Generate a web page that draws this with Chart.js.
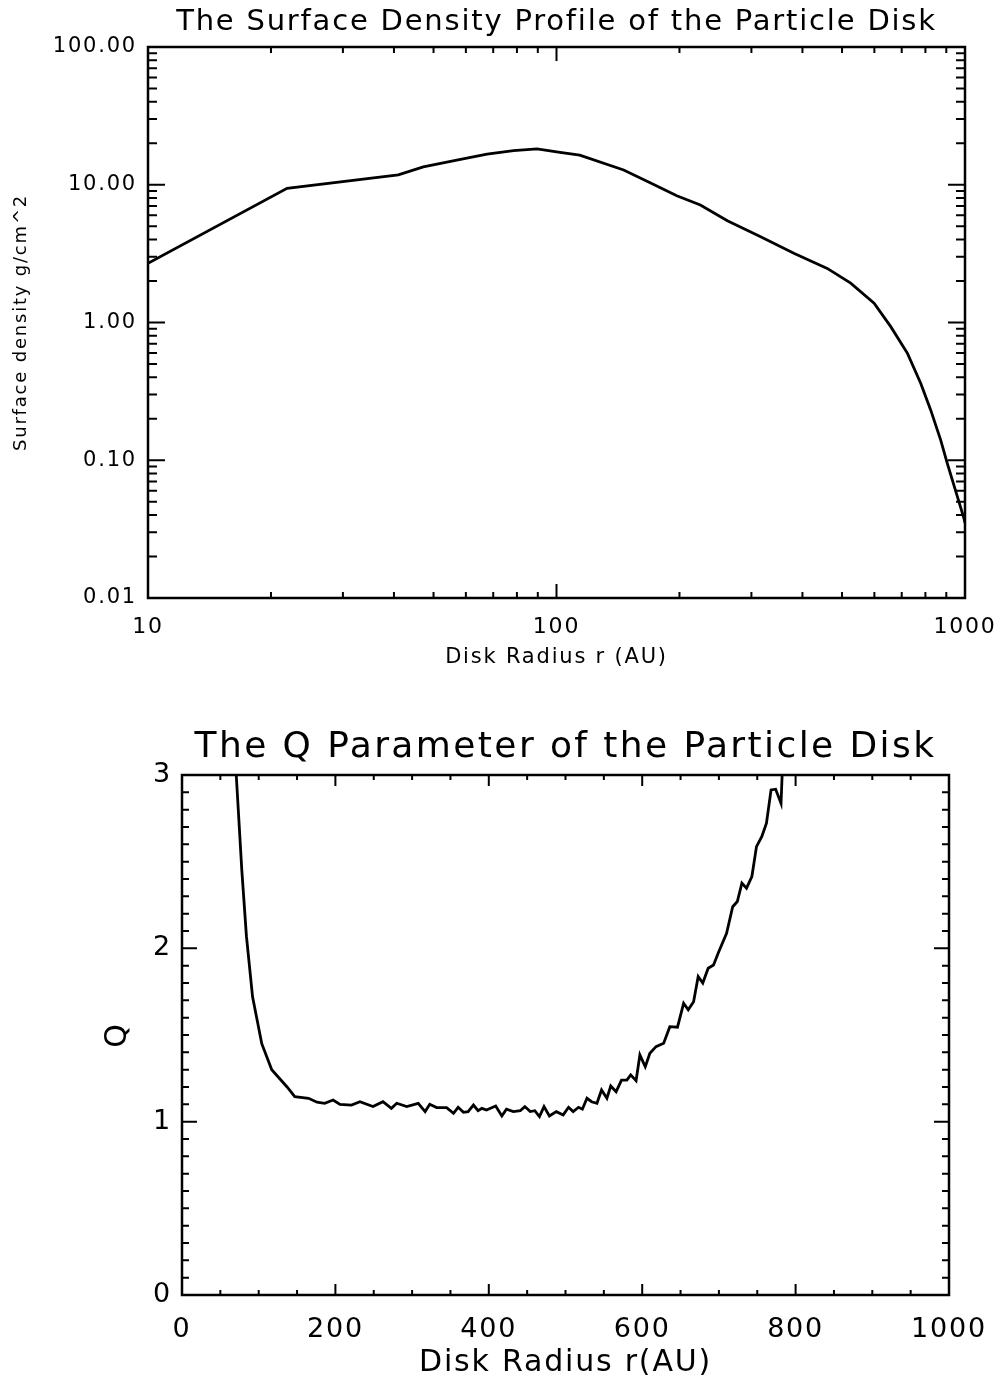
<!DOCTYPE html>
<html>
<head>
<meta charset="utf-8">
<script src="https://cdn.jsdelivr.net/npm/chart.js@4.4.0/dist/chart.umd.min.js"></script>
<style>
  body { margin: 0; background: #fff; }
  .wrap { position: absolute; left: 0; width: 1000px; }
</style>
</head>
<body>
<div class="wrap" style="top:0;height:690px"><canvas id="sigmaChart" width="1000" height="690"></canvas></div>
<div class="wrap" style="top:690px;height:691px"><canvas id="qChart" width="1000" height="691"></canvas></div>
<script>
// surface density profile
const sigmaRadius = [10, 21.9, 41.0, 47.2, 57.0, 67.6, 78.5, 89.6, 102, 114,
  146, 170, 197, 225, 262, 316, 381, 460, 525, 599,
  658, 723, 779, 824, 872, 905, 958, 994, 1000];
const sigmaDensity = [2.69, 9.42, 11.8, 13.5, 15.1, 16.7, 17.7, 18.2, 17.2, 16.4,
  12.8, 10.3, 8.33, 7.13, 5.48, 4.20, 3.18, 2.47, 1.93, 1.38,
  0.933, 0.597, 0.362, 0.232, 0.140, 0.095, 0.0544, 0.0379, 0.035];
const sigmaXTicks = [10, 100, 1000];
const sigmaYTicks = [0.01, 0.1, 1, 10, 100];

// Q parameter profile
const qRadius = [66, 71, 78, 84, 92, 104, 117, 137, 147, 165,
  176, 186, 197, 206, 221, 232, 249, 262, 273, 280,
  293, 308, 317, 323, 332, 345, 354, 360, 367, 373,
  380, 386, 391, 397, 409, 417, 423, 432, 441, 447,
  454, 460, 466, 472, 479, 488, 497, 504, 510, 517,
  522, 528, 534, 541, 547, 554, 559, 566, 573, 580,
  585, 592, 597, 604, 610, 618, 628, 636, 646, 654,
  660, 667, 673, 679, 686, 693, 699, 710, 718, 724,
  730, 736, 743, 749, 756, 762, 768, 774, 781, 786];
const qValue = [3.4, 2.98, 2.45, 2.07, 1.72, 1.45, 1.30, 1.20, 1.144, 1.135,
  1.112, 1.106, 1.125, 1.10, 1.096, 1.115, 1.087, 1.115, 1.077, 1.106,
  1.087, 1.106, 1.058, 1.10, 1.081, 1.081, 1.048, 1.083, 1.054, 1.058,
  1.096, 1.063, 1.077, 1.067, 1.09, 1.033, 1.072, 1.058, 1.063, 1.087,
  1.058, 1.063, 1.029, 1.087, 1.033, 1.058, 1.039, 1.083, 1.058, 1.083,
  1.072, 1.135, 1.115, 1.106, 1.183, 1.135, 1.206, 1.173, 1.24, 1.24,
  1.27, 1.237, 1.385, 1.317, 1.395, 1.433, 1.452, 1.548, 1.545, 1.683,
  1.645, 1.692, 1.837, 1.80, 1.885, 1.904, 1.972, 2.087, 2.24, 2.27,
  2.376, 2.347, 2.414, 2.587, 2.645, 2.722, 2.914, 2.918, 2.837, 3.4];
const qXTicks = [0, 200, 400, 600, 800, 1000];
const qYTicks = [0, 1, 2, 3];

const FONT = "'DejaVu Sans', sans-serif";

// minor ticks between majors: k*a for log, even subdivisions for linear
function logMinors(majors) {
  const out = [];
  for (let i = 0; i < majors.length - 1; i++) {
    for (let k = 2; k <= 9; k++) out.push(majors[i] * k);
  }
  return out;
}
function linMinors(majors, parts) {
  const out = [];
  for (let i = 0; i < majors.length - 1; i++) {
    const step = (majors[i + 1] - majors[i]) / parts;
    for (let k = 1; k < parts; k++) out.push(majors[i] + k * step);
  }
  return out;
}

// IDL style frame: box on all four sides with inward ticks, title centred on the plot box
function makeFrame(cfg) {
  return {
    id: "frame",
    beforeDraw(chart) {
      // the old plot used a wide stroke font, space the letters out a bit
      chart.ctx.letterSpacing = "1.8px";
    },
    afterDatasetsDraw(chart) {
      const { ctx, chartArea: a, scales } = chart;
      ctx.save();
      ctx.strokeStyle = "#000";
      ctx.lineWidth = 2;
      ctx.beginPath();
      const xt = (v, len) => {
        const px = scales.x.getPixelForValue(v);
        ctx.moveTo(px, a.bottom); ctx.lineTo(px, a.bottom - len);
        ctx.moveTo(px, a.top); ctx.lineTo(px, a.top + len);
      };
      const yt = (v, len) => {
        const py = scales.y.getPixelForValue(v);
        ctx.moveTo(a.left, py); ctx.lineTo(a.left + len, py);
        ctx.moveTo(a.right, py); ctx.lineTo(a.right - len, py);
      };
      cfg.xMajor.forEach((v) => xt(v, cfg.xMajorLen));
      cfg.xMinor.forEach((v) => xt(v, cfg.xMinorLen));
      cfg.yMajor.forEach((v) => yt(v, cfg.yMajorLen));
      cfg.yMinor.forEach((v) => yt(v, cfg.yMinorLen));
      ctx.stroke();
      ctx.lineWidth = 2.5;
      ctx.strokeRect(a.left, a.top, a.width, a.height);

      ctx.fillStyle = "#000";
      ctx.font = "normal " + cfg.titleSize + "px " + FONT;
      ctx.textAlign = "center";
      ctx.textBaseline = "middle";
      ctx.letterSpacing = cfg.titleSpacing;
      ctx.fillText(cfg.title, (a.left + a.right) / 2, cfg.titleY);
      ctx.restore();
    },
  };
}

function toPoints(xs, ys) {
  return xs.map((x, i) => ({ x: x, y: ys[i] }));
}

// keep the plot box where the layout padding puts it (labels may hang over the edge)
function fixHeight(h) {
  return (s) => { s.height = h; s.paddingLeft = 0; s.paddingRight = 0; };
}

// Top chart: surface density
new Chart(document.getElementById("sigmaChart"), {
  type: "scatter",
  data: {
    datasets: [{
      data: toPoints(sigmaRadius, sigmaDensity),
      showLine: true,
      borderColor: "#000",
      borderWidth: 2.8,
      pointRadius: 0,
      tension: 0,
    }],
  },
  options: {
    responsive: false,
    animation: false,
    devicePixelRatio: 1,
    layout: { padding: { left: 0, right: 35, top: 47, bottom: 0 } },
    plugins: {
      legend: { display: false },
      tooltip: { enabled: false },
    },
    scales: {
      x: {
        type: "logarithmic",
        min: 10,
        max: 1000,
        afterBuildTicks: (s) => { s.ticks = sigmaXTicks.map((v) => ({ value: v })); },
        afterFit: fixHeight(92),
        ticks: {
          callback: (v) => String(v),
          color: "#000",
          font: { family: FONT, size: 22 },
          padding: 16,
          maxRotation: 0,
          autoSkip: false,
        },
        grid: { display: false, drawTicks: false },
        border: { display: false },
        title: {
          display: true,
          text: "Disk Radius r (AU)",
          color: "#000",
          font: { family: FONT, size: 21 },
          padding: { top: 0, bottom: 20 },
        },
      },
      y: {
        type: "logarithmic",
        min: 0.01,
        max: 100,
        afterBuildTicks: (s) => { s.ticks = sigmaYTicks.map((v) => ({ value: v })); },
        afterFit: (s) => { s.width = 148; },
        ticks: {
          callback: (v) => Number(v).toFixed(2),
          color: "#000",
          font: { family: FONT, size: 21 },
          padding: 11,
          autoSkip: false,
        },
        grid: { display: false, drawTicks: false },
        border: { display: false },
        title: {
          display: true,
          text: "Surface density g/cm^2",
          color: "#000",
          font: { family: FONT, size: 18 },
          padding: { top: 11, bottom: 0 },
        },
      },
    },
  },
  plugins: [makeFrame({
    xMajor: sigmaXTicks, xMinor: logMinors(sigmaXTicks), xMajorLen: 14, xMinorLen: 6,
    yMajor: sigmaYTicks, yMinor: logMinors(sigmaYTicks), yMajorLen: 17, yMinorLen: 9,
    title: "The Surface Density Profile of the Particle Disk",
    titleSize: 29, titleSpacing: "1.8px", titleY: 22,
  })],
});

// Bottom chart: Q parameter
new Chart(document.getElementById("qChart"), {
  type: "scatter",
  data: {
    datasets: [{
      data: toPoints(qRadius, qValue),
      showLine: true,
      borderColor: "#000",
      borderWidth: 2.8,
      pointRadius: 0,
      tension: 0,
    }],
  },
  options: {
    responsive: false,
    animation: false,
    devicePixelRatio: 1,
    layout: { padding: { left: 0, right: 51, top: 85, bottom: 0 } },
    plugins: {
      legend: { display: false },
      tooltip: { enabled: false },
    },
    scales: {
      x: {
        type: "linear",
        min: 0,
        max: 1000,
        afterBuildTicks: (s) => { s.ticks = qXTicks.map((v) => ({ value: v })); },
        afterFit: fixHeight(86),
        ticks: {
          callback: (v) => String(v),
          color: "#000",
          font: { family: FONT, size: 27 },
          padding: 19,
          maxRotation: 0,
          autoSkip: false,
        },
        grid: { display: false, drawTicks: false },
        border: { display: false },
        title: {
          display: true,
          text: "Disk Radius r(AU)",
          color: "#000",
          font: { family: FONT, size: 30 },
          padding: { top: 0, bottom: 0 },
        },
      },
      y: {
        type: "linear",
        min: 0,
        max: 3,
        afterBuildTicks: (s) => { s.ticks = qYTicks.map((v) => ({ value: v })); },
        afterFit: (s) => { s.width = 182; },
        ticks: {
          callback: (v) => String(v),
          color: "#000",
          font: { family: FONT, size: 27 },
          padding: 10,
          autoSkip: false,
        },
        grid: { display: false, drawTicks: false },
        border: { display: false },
        title: {
          display: true,
          text: "Q",
          color: "#000",
          font: { family: FONT, size: 30 },
          padding: { top: 100, bottom: 0 },
        },
      },
    },
  },
  plugins: [makeFrame({
    xMajor: qXTicks, xMinor: linMinors(qXTicks, 4), xMajorLen: 11, xMinorLen: 5,
    yMajor: qYTicks, yMinor: linMinors(qYTicks, 10), yMajorLen: 15, yMinorLen: 7,
    title: "The Q Parameter of the Particle Disk",
    titleSize: 36, titleSpacing: "2.4px", titleY: 58,
  })],
});
</script>
</body>
</html>
